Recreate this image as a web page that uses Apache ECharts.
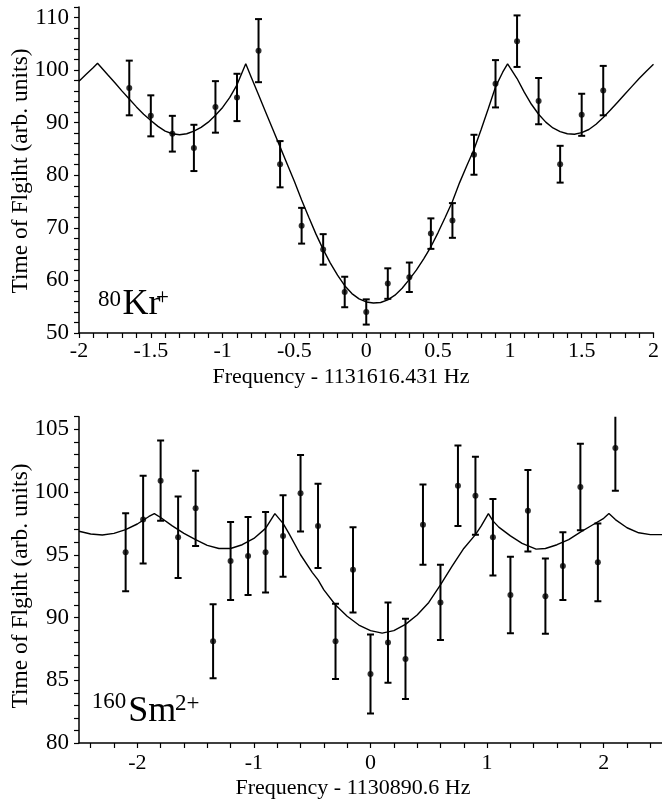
<!DOCTYPE html>
<html><head><meta charset="utf-8">
<script src="https://cdn.jsdelivr.net/npm/echarts@6/dist/echarts.min.js"></script>
<style>html,body{margin:0;padding:0;background:#fff}#c{width:662px;height:802px}</style>
</head><body><div id="c"></div>
<script>
// ---- Top panel (80Kr+) ----
const topX = [-1.65,-1.5,-1.35,-1.2,-1.05,-0.9,-0.75,-0.6,-0.45,-0.3,-0.15,0,0.15,0.3,0.45,0.6,0.75,0.9,1.05,1.2,1.35,1.5,1.65];
const topY = [96.6,91.3,87.9,85.2,93.0,94.8,103.7,82.1,70.4,65.9,57.8,54.0,59.4,60.6,68.9,71.4,83.9,97.4,105.5,94.1,82.1,91.5,96.1];
const topErr = [5.2,3.9,3.4,4.4,4.9,4.5,6.0,4.4,3.4,2.9,2.9,2.4,2.9,2.8,2.9,3.3,3.8,4.5,4.9,4.4,3.5,4.0,4.7];
const topFitX = [-2,-1.95,-1.9,-1.871,-1.8,-1.75,-1.7,-1.65,-1.6,-1.55,-1.5,-1.45,-1.4,-1.35,-1.3,-1.25,-1.2,-1.15,-1.1,-1.05,-1.0,-0.95,-0.9,-0.839,-0.8,-0.75,-0.7,-0.65,-0.6,-0.55,-0.5,-0.45,-0.4,-0.35,-0.3,-0.25,-0.2,-0.15,-0.1,-0.05,0,0.05,0.1,0.15,0.2,0.25,0.3,0.35,0.4,0.45,0.5,0.55,0.6,0.65,0.7,0.75,0.8,0.85,0.9,0.95,0.984,1.0,1.05,1.1,1.15,1.2,1.25,1.3,1.35,1.4,1.45,1.5,1.55,1.6,1.65,1.7,1.75,1.8,1.85,1.9,1.95,2.0];
const topFitY = [97.9,99.2,100.5,101.3,99.1,97.6,96.0,94.5,93.0,91.6,90.4,89.3,88.4,87.9,87.7,87.9,88.4,89.1,90.1,91.4,92.9,94.8,97.2,101.2,98.6,95.3,92.0,88.7,85.4,82.1,78.8,75.3,72.0,68.8,65.9,63.3,61.0,59.0,57.5,56.5,55.9,55.7,55.8,56.3,57.2,58.5,60.2,62.0,64.1,66.4,69.1,72.0,75.0,78.6,81.8,84.9,88.7,92.7,96.8,99.6,101.2,100.5,98.4,95.8,93.5,91.6,90.1,89.0,88.3,87.9,87.8,88.1,88.7,89.7,91.0,92.4,93.9,95.4,96.9,98.4,99.8,101.1];
const topXLabels = [-2,-1.5,-1,-0.5,0,0.5,1,1.5,2];
const topYLabels = [50,60,70,80,90,100,110];

// ---- Bottom panel (160Sm2+) ----
const botX = [-2.1,-1.95,-1.8,-1.65,-1.5,-1.35,-1.2,-1.05,-0.9,-0.75,-0.6,-0.45,-0.3,-0.15,0,0.15,0.3,0.45,0.6,0.75,0.9,1.05,1.2,1.35,1.5,1.65,1.8,1.95,2.1];
const botY = [95.2,97.8,100.9,96.4,98.7,88.1,94.5,94.9,95.2,96.5,99.9,97.3,88.1,93.8,85.5,88.0,86.7,97.4,91.2,100.5,99.7,96.4,91.8,98.5,91.7,94.1,100.4,94.4,103.5];
const botErr = [3.1,3.5,3.2,3.25,3.0,2.95,3.1,3.1,3.2,3.25,3.05,3.35,3.0,3.4,3.15,3.2,3.2,3.2,3.0,3.2,3.1,3.05,3.05,3.25,3.0,2.7,3.45,3.1,3.4];
const botFitX = [-2.5,-2.4,-2.3,-2.2,-2.1,-2.0,-1.95,-1.9,-1.854,-1.8,-1.7,-1.6,-1.5,-1.4,-1.3,-1.2,-1.1,-1.0,-0.9,-0.82,-0.75,-0.7,-0.6,-0.5,-0.45,-0.4,-0.3,-0.2,-0.1,0,0.1,0.2,0.3,0.4,0.5,0.6,0.7,0.8,0.9,0.95,1.011,1.05,1.1,1.2,1.3,1.42,1.5,1.6,1.7,1.8,1.9,2.0,2.045,2.1,2.2,2.3,2.4,2.5];
const botFitY = [96.87,96.65,96.57,96.7,97.0,97.45,97.75,98.05,98.28,97.97,97.3,96.7,96.2,95.75,95.5,95.5,95.8,96.3,97.1,98.28,97.5,96.7,95.0,93.6,93.0,92.2,91.0,90.1,89.4,88.95,88.75,88.95,89.45,90.2,91.2,92.6,94.1,95.5,96.6,97.3,98.28,97.7,97.2,96.5,95.9,95.45,95.5,95.8,96.2,96.8,97.35,97.9,98.28,97.8,97.15,96.75,96.6,96.6];
const botXLabels = [-2,-1,0,1,2];
const botYLabels = [80,85,90,95,100,105];

function range(a, b, s) { const r = []; const n = Math.round((b - a) / s); for (let i = 0; i <= n; i++) r.push(+(a + i * s).toFixed(4)); return r; }

const FONT = 'Liberation Serif';
const zip3 = (xs, ys, es) => xs.map((x, i) => [x, ys[i], es[i]]);
const zip2 = (xs, ys) => xs.map((x, i) => [x, ys[i]]);

function errItem(params, api) {
  const x = api.value(0), y = api.value(1), e = api.value(2);
  const hi = api.coord([x, y + e]), lo = api.coord([x, y - e]);
  const w = 3.5, st = { stroke: '#000', lineWidth: 2 };
  return { type: 'group', children: [
    { type: 'line', shape: { x1: hi[0], y1: hi[1], x2: lo[0], y2: lo[1] }, style: st },
    { type: 'line', shape: { x1: hi[0] - w, y1: hi[1], x2: hi[0] + w, y2: hi[1] }, style: st },
    { type: 'line', shape: { x1: lo[0] - w, y1: lo[1], x2: lo[0] + w, y2: lo[1] }, style: st }
  ]};
}

function xAxis(grid, min, max, labels, ticks, margin) {
  return { type: 'value', gridIndex: grid, min, max,
    axisLine: { show: true, onZero: false, lineStyle: { color: '#000', width: 1.5 } },
    axisTick: { show: true, inside: false, length: 5, customValues: ticks, lineStyle: { color: '#000', width: 1.2 } },
    axisLabel: { customValues: labels, margin, color: '#000', fontFamily: FONT, fontSize: 22, formatter: v => String(v) },
    splitLine: { show: false } };
}
function yAxis(grid, min, max, labels, ticks) {
  return { type: 'value', gridIndex: grid, min, max,
    axisLine: { show: true, onZero: false, lineStyle: { color: '#000', width: 1.5 } },
    axisTick: { show: true, inside: false, length: 5, customValues: ticks, lineStyle: { color: '#000', width: 1.2 } },
    axisLabel: { customValues: labels, margin: 10, color: '#000', fontFamily: FONT, fontSize: 23, formatter: v => String(v) },
    splitLine: { show: false } };
}

function txt(text, x, y, size, align, rot) {
  return { type: 'text', x, y, rotation: rot || 0, silent: true,
    style: { text, font: size + 'px "' + FONT + '"', fill: '#000', textAlign: align || 'left', align: align || 'left', textVerticalAlign: 'middle', verticalAlign: 'middle' } };
}

const chart = echarts.init(document.getElementById('c'));
chart.setOption({
  animation: false,
  backgroundColor: '#fff',
  grid: [
    { left: 79, top: 7, width: 579, height: 326 },
    { left: 79, top: 416.7, width: 583, height: 326.3 }
  ],
  xAxis: [
    xAxis(0, -2, 2, topXLabels, range(-2, 2, 0.1), 7),
    xAxis(1, -2.5, 2.5, botXLabels, range(-2.4, 2.4, 0.2), 9.5)
  ],
  yAxis: [
    yAxis(0, 50, 112, topYLabels, range(50, 112, 2)),
    yAxis(1, 80, 106, botYLabels, range(80, 106, 1))
  ],
  series: [
    { type: 'line', xAxisIndex: 0, yAxisIndex: 0, data: zip2(topFitX, topFitY), showSymbol: false, lineStyle: { color: '#000', width: 1.4 }, z: 2 },
    { type: 'custom', xAxisIndex: 0, yAxisIndex: 0, data: zip3(topX, topY, topErr), renderItem: errItem, clip: true, z: 3 },
    { type: 'scatter', xAxisIndex: 0, yAxisIndex: 0, data: zip2(topX, topY), symbolSize: 6, itemStyle: { color: '#000' }, z: 4 },
    { type: 'line', xAxisIndex: 1, yAxisIndex: 1, data: zip2(botFitX, botFitY), showSymbol: false, lineStyle: { color: '#000', width: 1.4 }, z: 2 },
    { type: 'custom', xAxisIndex: 1, yAxisIndex: 1, data: zip3(botX, botY, botErr), renderItem: errItem, clip: true, z: 3 },
    { type: 'scatter', xAxisIndex: 1, yAxisIndex: 1, data: zip2(botX, botY), symbolSize: 6, itemStyle: { color: '#000' }, z: 4 }
  ],
  graphic: [
    txt('Frequency - 1131616.431 Hz', 341, 377.5, 22, 'center'),
    txt('Frequency - 1130890.6 Hz', 353, 788, 22, 'center'),
    txt('Time of Flgiht (arb. units)', 20.5, 171, 23.5, 'center', Math.PI / 2),
    txt('Time of Flgiht (arb. units)', 20.5, 586, 23.5, 'center', Math.PI / 2),
    txt('80', 98, 299.5, 23),
    txt('Kr', 122.5, 305, 36),
    txt('+', 156, 297.5, 23),
    txt('160', 91.7, 701.5, 23),
    txt('Sm', 128.3, 711.7, 36),
    txt('2+', 175, 703.5, 23)
  ]
});
</script></body></html>
